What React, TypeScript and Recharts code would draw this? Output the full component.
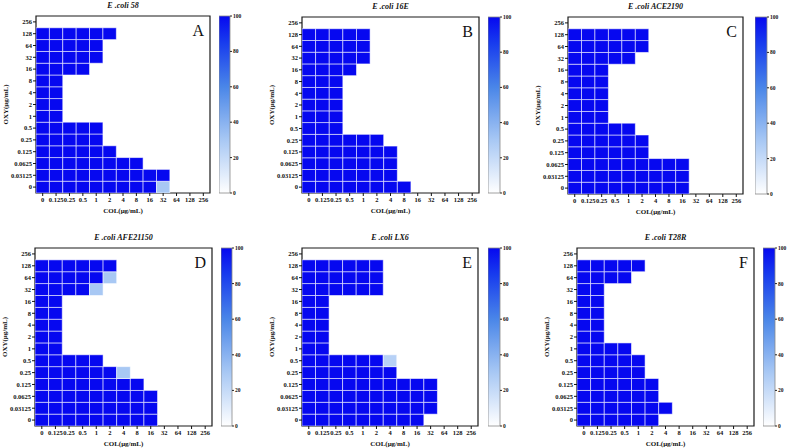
import React from 'react';
import { ScatterChart, Scatter, XAxis, YAxis, ReferenceArea, BarChart, Bar } from 'recharts';

// COL (x) and OXY (y) concentration labels, µg/mL
const colLabels = ['0', '0.125', '0.25', '0.5', '1', '2', '4', '8', '16', '32', '64', '128', '256'];
const rowLabels = ['0', '0.03125', '0.0625', '0.125', '0.25', '0.5', '1', '2', '4', '8', '16', '32', '64', '128', '256'];
const colorbarTicks = [0, 20, 40, 60, 80, 100];

// Growth (%) per well; each list is one OXY row (from 0 up to 256), values per COL column (blank wells omitted at the end)
const ecoli58: number[][] = [
  [100, 100, 100, 100, 100, 100, 100, 100, 100, 30],
  [100, 100, 100, 100, 100, 100, 100, 100, 100, 100],
  [100, 100, 100, 100, 100, 100, 100, 100],
  [100, 100, 100, 100, 100, 100],
  [100, 100, 100, 100, 100],
  [100, 100, 100, 100, 100],
  [100, 100],
  [100, 100],
  [100, 100],
  [100, 100],
  [100, 100, 100, 100],
  [100, 100, 100, 100, 100],
  [100, 100, 100, 100, 100],
  [100, 100, 100, 100, 100, 100],
  [],
];
const ecoli16E: number[][] = [
  [100, 100, 100, 100, 100, 100, 100, 100],
  [100, 100, 100, 100, 100, 100, 100],
  [100, 100, 100, 100, 100, 100, 100],
  [100, 100, 100, 100, 100, 100, 100],
  [100, 100, 100, 100, 100, 100],
  [100, 100, 100],
  [100, 100, 100],
  [100, 100, 100],
  [100, 100, 100],
  [100, 100, 100],
  [100, 100, 100, 100],
  [100, 100, 100, 100, 100],
  [100, 100, 100, 100, 100],
  [100, 100, 100, 100, 100],
  [],
];
const ecoliACE2190: number[][] = [
  [100, 100, 100, 100, 100, 100, 100, 100, 100],
  [100, 100, 100, 100, 100, 100, 100, 100, 100],
  [100, 100, 100, 100, 100, 100, 100, 100, 100],
  [100, 100, 100, 100, 100, 100],
  [100, 100, 100, 100, 100, 100],
  [100, 100, 100, 100, 100],
  [100, 100, 100],
  [100, 100, 100],
  [100, 100, 100],
  [100, 100, 100],
  [100, 100, 100],
  [100, 100, 100, 100, 100],
  [100, 100, 100, 100, 100, 100],
  [100, 100, 100, 100, 100, 100],
  [],
];
const ecoliAFE21150: number[][] = [
  [100, 100, 100, 100, 100, 100, 100, 100, 100],
  [100, 100, 100, 100, 100, 100, 100, 100, 100],
  [100, 100, 100, 100, 100, 100, 100, 100, 100],
  [100, 100, 100, 100, 100, 100, 100, 100],
  [100, 100, 100, 100, 100, 100, 30],
  [100, 100, 100, 100, 100],
  [100, 100],
  [100, 100],
  [100, 100],
  [100, 100],
  [100, 100],
  [100, 100, 100, 100, 30],
  [100, 100, 100, 100, 100, 30],
  [100, 100, 100, 100, 100, 100],
  [],
];
const ecoliLX6: number[][] = [
  [100, 100, 100, 100, 100, 100, 100, 100, 100],
  [100, 100, 100, 100, 100, 100, 100, 100, 100, 100],
  [100, 100, 100, 100, 100, 100, 100, 100, 100, 100],
  [100, 100, 100, 100, 100, 100, 100, 100, 100, 100],
  [100, 100, 100, 100, 100, 100, 100],
  [100, 100, 100, 100, 100, 100, 25],
  [100, 100],
  [100, 100],
  [100, 100],
  [100, 100],
  [100, 100],
  [100, 100, 100, 100, 100, 100],
  [100, 100, 100, 100, 100, 100],
  [100, 100, 100, 100, 100, 100],
  [],
];
const ecoliT28R: number[][] = [
  [100, 100, 100, 100, 100, 100],
  [100, 100, 100, 100, 100, 100, 100],
  [100, 100, 100, 100, 100, 100],
  [100, 100, 100, 100, 100, 100],
  [100, 100, 100, 100, 100],
  [100, 100, 100, 100, 100],
  [100, 100, 100, 100],
  [100, 100],
  [100, 100],
  [100, 100],
  [100, 100],
  [100, 100],
  [100, 100, 100, 100],
  [100, 100, 100, 100, 100],
  [],
];

const titles = ['E .coli 58', 'E .coli 16E', 'E .coli ACE2190', 'E .coli AFE21150', 'E .coli LX6', 'E .coli T28R'];
const letters = ['A', 'B', 'C', 'D', 'E', 'F'];
const datasets = [ecoli58, ecoli16E, ecoliACE2190, ecoliAFE21150, ecoliLX6, ecoliT28R];

// layout (plot area rectangles and colorbar positions)
const layout = [
  { px: 36, py: 16, pw: 174, ph: 177, cbx: 219, cbw: 11 },
  { px: 302, py: 17, pw: 177, ph: 176, cbx: 488, cbw: 12 },
  { px: 568, py: 17, pw: 175, ph: 177, cbx: 755, cbw: 12 },
  { px: 35, py: 248, pw: 177, ph: 178, cbx: 221, cbw: 11 },
  { px: 302, py: 248, pw: 176, ph: 178, cbx: 488, cbw: 12 },
  { px: 577, py: 248, pw: 177, ph: 178, cbx: 763, cbw: 12 },
];

const FONT = '"Liberation Serif", "Times New Roman", serif';
const stops: [number, number[]][] = [
  [0, [255, 255, 255]],
  [0.3, [168, 200, 244]],
  [0.6, [74, 134, 232]],
  [0.85, [24, 60, 238]],
  [1, [6, 8, 240]],
];

function colorOf(v: number) {
  const t = Math.max(0, Math.min(1, v / 100));
  for (let i = 1; i < stops.length; i++) {
    if (t <= stops[i][0]) {
      const [t0, c0] = stops[i - 1];
      const [t1, c1] = stops[i];
      const f = (t - t0) / (t1 - t0);
      const c = c0.map((a, k) => Math.round(a + (c1[k] - a) * f));
      return `rgb(${c[0]},${c[1]},${c[2]})`;
    }
  }
  return 'rgb(6,8,240)';
}

function toCells(rows: number[][]) {
  const out: { x: number; y: number; v: number }[] = [];
  rows.forEach((r, yi) => r.forEach((v, xi) => { if (v > 0) out.push({ x: xi, y: yi, v }); }));
  return out;
}

const colIdx = colLabels.map((_, i) => i);
const rowIdx = rowLabels.map((_, i) => i);
const tickStyle = { fontSize: 6.5, fontWeight: 'bold', fill: '#111', fontFamily: FONT };

function Panel({ idx }: { idx: number }) {
  const L = layout[idx];
  const cw = L.pw / colLabels.length;
  const ch = L.ph / rowLabels.length;
  const YW = 40, XH = 30, TOPM = 2, RM = 2;
  const cells = toCells(datasets[idx]);
  const shape = (p: any) => (
    <rect x={p.cx - cw / 2} y={p.cy - ch / 2} width={cw} height={ch}
      fill={colorOf(p.payload.v)} stroke="rgba(255,255,255,0.6)" strokeWidth={0.9} />
  );
  return (
    <div style={{ position: 'absolute', left: L.px - YW, top: L.py - TOPM }}>
      <ScatterChart width={YW + L.pw + RM} height={TOPM + L.ph + XH} margin={{ top: TOPM, right: RM, bottom: 0, left: 0 }}>
        <XAxis type="number" dataKey="x" domain={[-0.5, colLabels.length - 0.5]} ticks={colIdx} interval={0}
          tickFormatter={(i: number) => colLabels[i]} height={XH} tick={tickStyle} tickSize={3} tickMargin={1}
          axisLine={false} tickLine={{ stroke: '#111' }} allowDataOverflow />
        <YAxis type="number" dataKey="y" domain={[-0.5, rowLabels.length - 0.5]} ticks={rowIdx} interval={0}
          tickFormatter={(i: number) => rowLabels[i]} width={YW} tick={tickStyle} tickSize={3} tickMargin={1}
          axisLine={false} tickLine={{ stroke: '#111' }} allowDataOverflow />
        <Scatter data={cells} shape={shape} isAnimationActive={false} />
        <ReferenceArea x1={-0.5} x2={colLabels.length - 0.5} y1={-0.5} y2={rowLabels.length - 0.5}
          fill="none" fillOpacity={0} stroke="#1a1a1a" strokeWidth={1.2} />
      </ScatterChart>
    </div>
  );
}

const cbData = [{ name: 'scale', v: 100 }];

function ColorBar({ idx }: { idx: number }) {
  const L = layout[idx];
  const M = 5, AW = 16;
  return (
    <div style={{ position: 'absolute', left: L.cbx, top: L.py - M }}>
      <BarChart width={L.cbw + AW} height={L.ph + 2 * M} data={cbData} margin={{ top: M, bottom: M, left: 0, right: 0 }} barCategoryGap={0}>
        <XAxis dataKey="name" type="category" hide />
        <YAxis orientation="right" type="number" domain={[0, 100]} ticks={colorbarTicks} interval={0} width={AW}
          tick={{ fontSize: 5.5, fontWeight: 'bold', fill: '#111', fontFamily: FONT }} tickSize={2} tickMargin={1}
          axisLine={false} tickLine={{ stroke: '#222' }} />
        <Bar dataKey="v" fill="url(#cbGrad)" stroke="#888" strokeWidth={0.8} isAnimationActive={false} />
      </BarChart>
    </div>
  );
}

export default function App() {
  return (
    <div style={{ position: 'absolute', left: 0, top: 0, width: 787, height: 448, background: '#fff', overflow: 'hidden' }}>
      <svg width={0} height={0} style={{ position: 'absolute' }}>
        <defs>
          <linearGradient id="cbGrad" x1="0" y1="1" x2="0" y2="0">
            {stops.map(([t, c]) => (
              <stop key={t} offset={`${t * 100}%`} stopColor={`rgb(${c[0]},${c[1]},${c[2]})`} />
            ))}
          </linearGradient>
        </defs>
      </svg>
      {layout.map((_, i) => <Panel key={'p' + i} idx={i} />)}
      {layout.map((_, i) => <ColorBar key={'c' + i} idx={i} />)}
      <svg width={787} height={448} style={{ position: 'absolute', left: 0, top: 0, pointerEvents: 'none' }}>
        {layout.map((L, i) => (
          <g key={'t' + i} fontFamily={FONT} fill="#111">
            <text x={L.px + L.pw / 2} y={L.py - 11} textAnchor="middle" dominantBaseline="central"
              fontSize={8} fontWeight="bold" fontStyle="italic">{titles[i]}</text>
            <text x={L.px + L.pw / 2} y={L.py + L.ph + 18} textAnchor="middle" dominantBaseline="central"
              fontSize={7} fontWeight="bold">COL(μg/mL)</text>
            <text x={L.px - 30} y={L.py + L.ph / 2} textAnchor="middle" dominantBaseline="central"
              fontSize={7} fontWeight="bold" transform={`rotate(-90 ${L.px - 30} ${L.py + L.ph / 2})`}>OXY(μg/mL)</text>
            <text x={L.px + L.pw - 6} y={L.py + 20} textAnchor="end" fontSize={16}>{letters[i]}</text>
          </g>
        ))}
      </svg>
    </div>
  );
}
